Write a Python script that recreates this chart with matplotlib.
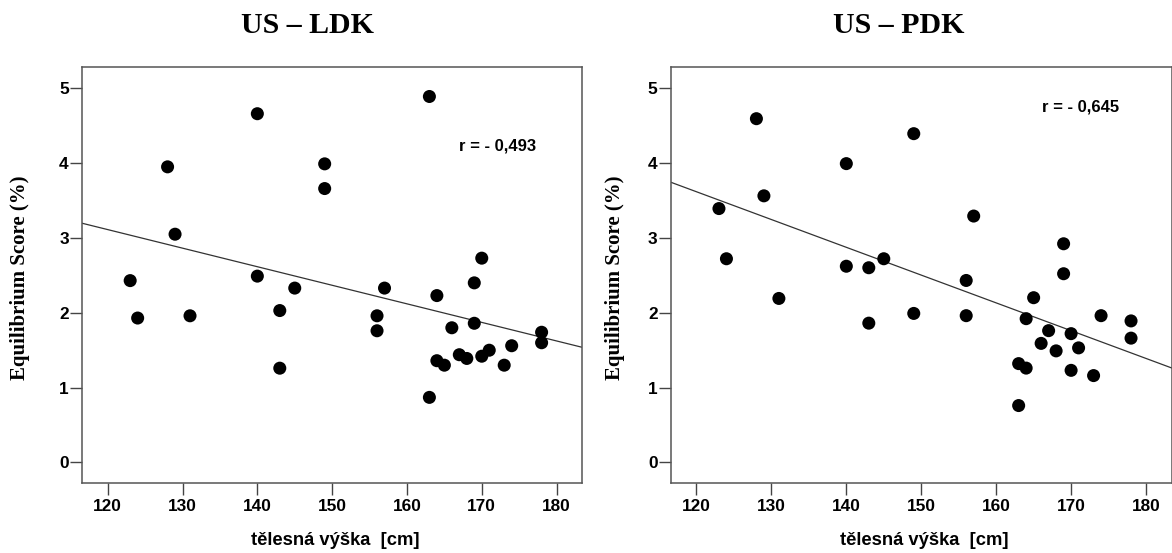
import numpy as np
import matplotlib
matplotlib.use("Agg")
import matplotlib.pyplot as plt

# body height of the children (cm), same subjects in both panels
height_cm = [123, 124, 128, 129, 131, 140, 140, 143, 143, 145, 149, 149, 156, 156, 157, 163,
             163, 164, 164, 165, 166, 167, 168, 169, 169, 170, 170, 171, 173, 174, 178, 178]

# equilibrium score, left lower limb (LDK)
score_ldk = [2.43, 1.93, 3.95, 3.05, 1.96, 4.66, 2.49, 2.03, 1.26, 2.33, 3.99, 3.66, 1.96, 1.76, 2.33, 4.89,
             0.87, 2.23, 1.36, 1.30, 1.80, 1.44, 1.39, 2.40, 1.86, 2.73, 1.42, 1.50, 1.30, 1.56, 1.74, 1.60]

# equilibrium score, right lower limb (PDK)
score_pdk = [3.39, 2.72, 4.59, 3.56, 2.19, 3.99, 2.62, 2.60, 1.86, 2.72, 4.39, 1.99, 2.43, 1.96, 3.29, 1.32,
             0.76, 1.92, 1.26, 2.20, 1.59, 1.76, 1.49, 2.92, 2.52, 1.72, 1.23, 1.53, 1.16, 1.96, 1.89, 1.66]

titles = ["US \u2013 LDK", "US \u2013 PDK"]
r_labels = ["r = - 0,493", "r = - 0,645"]
r_pos = [(166.9, 4.23), (166.1, 4.75)]
xticks = [120, 130, 140, 150, 160, 170, 180]
yticks = [0, 1, 2, 3, 4, 5]

sans = "Liberation Sans"
serif = "Liberation Serif"

fig = plt.figure(figsize=(11.72, 5.53), dpi=100)
W, H = 1172, 553

# axes boxes in pixels: left, right, top, bottom
boxes = [(82.3, 582.0, 67.3, 482.7), (671.0, 1171.5, 67.0, 482.7)]
title_x = [307.6, 899.0]
ylabel_x = [-0.1247, -0.111]

x = np.array(height_cm, dtype=float)
for i, scores in enumerate([score_ldk, score_pdk]):
    l, r, t, b = boxes[i]
    ax = fig.add_axes([l / W, (H - b) / H, (r - l) / W, (b - t) / H])
    y = np.array(scores)

    ax.scatter(x, y, s=88, color="black", edgecolors="none", zorder=3)

    # least-squares line over the full x range
    slope, icpt = np.polyfit(x, y, 1)
    xs = np.array([116.6, 183.4])
    ax.plot(xs, icpt + slope * xs, color="#333333", lw=0.9, zorder=2)

    ax.set_xlim(116.6, 183.4)
    ax.set_ylim(-0.27, 5.28)
    ax.set_xticks(xticks)
    ax.set_yticks(yticks)

    ax.tick_params(direction="out", length=8.5, width=1.0, color="#444444",
                   labelsize=12.4, labelcolor="black")
    ax.tick_params(axis="y", pad=1.2)
    ax.tick_params(axis="x", pad=3.5)
    for lab in ax.get_xticklabels() + ax.get_yticklabels():
        lab.set_fontfamily(sans)
        lab.set_fontweight("bold")
    for sp in ax.spines.values():
        sp.set_color("#555555")
        sp.set_linewidth(1.1)

    ax.text(r_pos[i][0], r_pos[i][1], r_labels[i], family=sans, fontweight="bold",
            fontsize=12, ha="left", va="center")

    ax.set_xlabel("t\u011blesn\u00e1 v\u00fd\u0161ka  [cm]", family=sans, fontweight="bold",
                  fontsize=13.2)
    ax.xaxis.set_label_coords(0.506, -0.1396)
    ax.xaxis.label.set_va("center")

    ax.set_ylabel("Equilibrium Score (%)", family=serif, fontweight="bold", fontsize=15)
    ax.yaxis.set_label_coords(ylabel_x[i], 0.493)
    ax.yaxis.label.set_va("center")

    fig.text(title_x[i] / W, 1 - 25.5 / H, titles[i], family=serif, fontweight="bold",
             fontsize=21.5, ha="center", va="center")

fig.savefig("out.png", dpi=100)
